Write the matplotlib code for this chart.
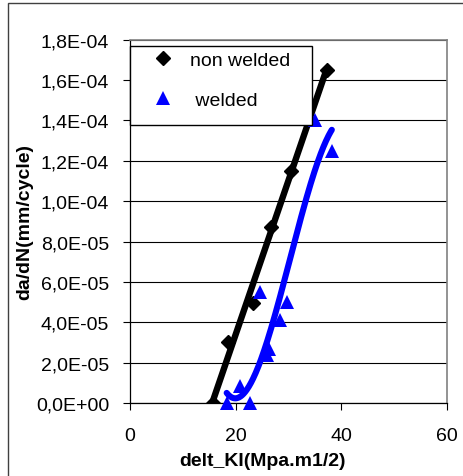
import numpy as np
import matplotlib.pyplot as plt
from matplotlib.patches import Rectangle
from matplotlib.lines import Line2D
from matplotlib.ticker import FuncFormatter, MultipleLocator

plt.rcParams['font.family'] = ['Liberation Sans', 'DejaVu Sans']

# Crack growth rate vs stress intensity range
dK_nw = [15.8, 18.6, 23.2, 26.6, 30.4, 37.2]
dadN_nw = [0.0, 3.0e-5, 4.95e-5, 8.7e-5, 11.5e-5, 16.5e-5]

dK_w = [18.3, 20.8, 22.7, 24.6, 26.0, 26.3, 28.4, 29.7, 35.0, 38.2]
dadN_w = [0.0, 0.85e-5, 0.0, 5.5e-5, 2.4e-5, 2.7e-5, 4.1e-5, 5.0e-5, 14.0e-5, 12.5e-5]

x_ticks = [0, 20, 40, 60]

W, H = 463, 477
fig = plt.figure(figsize=(W / 100, H / 100), dpi=100)
ax = fig.add_axes([130 / W, 1 - 404 / H, 317 / W, 363.3 / H])

# trendlines: linear for non welded, cubic for welded
fit_nw = np.polyfit(dK_nw, dadN_nw, 1)
fit_w = np.polyfit(dK_w, dadN_w, 3)
x_nw = np.linspace(min(dK_nw), max(dK_nw), 50)
x_w = np.linspace(min(dK_w), max(dK_w), 200)

ax.plot(x_nw, np.polyval(fit_nw, x_nw), color='black', lw=4.6,
        solid_capstyle='round', zorder=3)
ax.plot(dK_nw, dadN_nw, 'D', color='black', ms=7, zorder=4)
ax.plot(x_w, np.polyval(fit_w, x_w), color='#0000ff', lw=4.4,
        solid_capstyle='round', zorder=4)
ax.plot(dK_w, dadN_w, '^', color='#0000ff', ms=9.5, mew=0, zorder=5,
        clip_on=False)

ax.set_xlim(0, 60)
ax.set_ylim(0, 1.8e-4)
ax.set_xticks(x_ticks)
ax.yaxis.set_major_locator(MultipleLocator(2e-5))
ax.yaxis.set_major_formatter(FuncFormatter(lambda v, p: f"{v:.1E}".replace('.', ',')))
ax.grid(axis='y', color='black', lw=0.8)
ax.set_axisbelow(True)
ax.tick_params(axis='both', direction='out', length=5, width=0.8, labelsize=14,
               colors='black')
ax.tick_params(axis='x', pad=12)
ax.tick_params(axis='y', pad=10)

for s in ['left', 'bottom']:
    ax.spines[s].set_color('black')
    ax.spines[s].set_linewidth(0.9)
for s in ['top', 'right']:
    ax.spines[s].set_color('#808080')
    ax.spines[s].set_linewidth(1.2)

# legend box
box = Rectangle((0, 0.765), 0.574, 0.218, transform=ax.transAxes,
                facecolor='white', edgecolor='black', lw=1, zorder=10,
                clip_on=False)
ax.add_patch(box)
handles = [Line2D([], [], ls='none', marker='D', color='black', ms=7),
           Line2D([], [], ls='none', marker='^', color='#0000ff', ms=10, mew=0)]
leg = ax.legend(handles, ['non welded', ' welded'], loc='upper left',
                bbox_to_anchor=(0.0726, 0.9683), frameon=False, fontsize=14,
                handlelength=1.0, handletextpad=0.9, labelspacing=1.15,
                borderpad=0.0, borderaxespad=0.0)
leg.set_zorder(11)

fig.text(262.5 / W, 1 - 462 / H, 'delt_KI(Mpa.m1/2)', ha='center', va='center',
         fontsize=14, fontweight='bold')
fig.text(25 / W, 1 - 222 / H, 'da/dN(mm/cycle)', ha='center', va='center',
         rotation=90, fontsize=14, fontweight='bold')

# outer chart frame (left and top edges)
fig.patches.append(Rectangle((7.5 / W, -0.5), 2, 0.5 + 1 - 3.5 / H,
                             transform=fig.transFigure, fill=False,
                             edgecolor='#404040', lw=1))

fig.savefig('out.png', dpi=100)
